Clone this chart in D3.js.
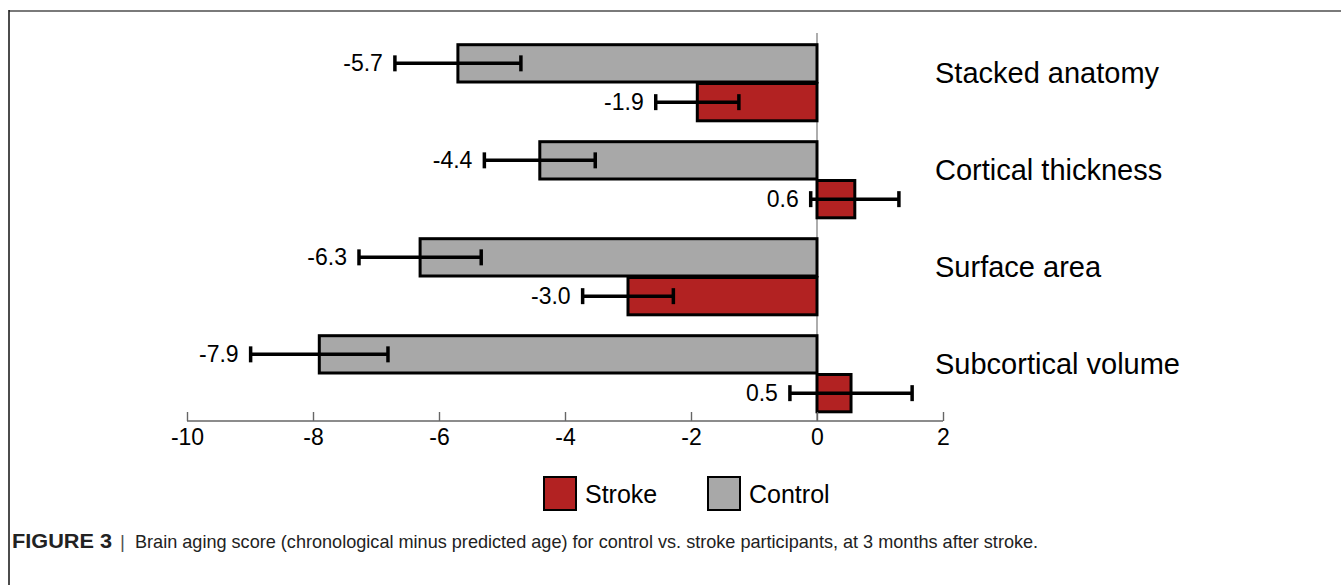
<!DOCTYPE html>
<html>
<head>
<meta charset="utf-8">
<script src="https://cdn.jsdelivr.net/npm/d3@7"></script>
<style>
  html, body { margin: 0; padding: 0; background: #fff; }
  svg { display: block; font-family: "Liberation Sans", Arial, sans-serif; }
</style>
</head>
<body>
<svg id="chart" width="1341" height="585"></svg>
<script>
(function (d3) {
    'use strict';

    // values
    var categories = ['Stacked anatomy', 'Cortical thickness', 'Surface area', 'Subcortical volume'];
    var series = ['Control', 'Stroke'];
    var controlMean = [-5.7, -4.4, -6.3, -7.9];
    var controlErr = [1.0, 0.88, 0.97, 1.09];
    var strokeMean = [-1.9, 0.6, -3.0, 0.54];
    var strokeErr = [0.66, 0.7, 0.72, 0.97];
    var xTicks = [-10, -8, -6, -4, -2, 0, 2];
    var legendItems = ['Stroke', 'Control'];

    var colors = { Control: '#a8a8a8', Stroke: '#b22222' };

    var rows = [];
    categories.forEach(function (c, i) {
        rows.push({ cat: c, series: 'Control', mean: controlMean[i], err: controlErr[i] });
        rows.push({ cat: c, series: 'Stroke', mean: strokeMean[i], err: strokeErr[i] });
    });

    // plain hyphen for negatives, like the original
    function fmt1(v) { return d3.format('.1f')(v).replace('\u2212', '-'); }

    var svg = d3.select('#chart');

    // frame of the figure panel
    svg.append('line')
        .attr('x1', 9).attr('x2', 1341).attr('y1', 11).attr('y2', 11)
        .attr('stroke', '#7a7a7a').attr('stroke-width', 2);
    svg.append('line')
        .attr('x1', 9).attr('x2', 9).attr('y1', 10).attr('y2', 585)
        .attr('stroke', '#111').attr('stroke-width', 1.5);

    var x = d3.scaleLinear().domain([-10, 2]).range([187, 943]);
    var y = d3.scaleBand().domain(categories).range([33.5, 421.5])
        .paddingInner(0.2).paddingOuter(0.1);
    var ySub = d3.scaleBand().domain(series).range([0, y.bandwidth()]);

    var axisY = 421;

    // zero line
    svg.append('line')
        .attr('x1', x(0)).attr('x2', x(0))
        .attr('y1', 33).attr('y2', axisY)
        .attr('stroke', '#777').attr('stroke-width', 1.2);

    // bars
    svg.append('g').selectAll('rect')
        .data(rows)
        .enter()
        .append('rect')
        .attr('x', function (d) { return x(Math.min(0, d.mean)); })
        .attr('y', function (d) { return y(d.cat) + ySub(d.series) + 1.5; })
        .attr('width', function (d) { return Math.abs(x(d.mean) - x(0)); })
        .attr('height', ySub.bandwidth() - 1.5)
        .attr('fill', function (d) { return colors[d.series]; })
        .attr('stroke', '#000')
        .attr('stroke-width', 3);

    // error bars
    var eb = svg.append('g').selectAll('g')
        .data(rows)
        .enter()
        .append('g')
        .attr('transform', function (d) {
            return 'translate(0,' + (y(d.cat) + ySub(d.series) + ySub.bandwidth() / 2 + 0.75) + ')';
        });
    eb.append('line')
        .attr('x1', function (d) { return x(d.mean - d.err); })
        .attr('x2', function (d) { return x(d.mean + d.err); })
        .attr('stroke', '#000').attr('stroke-width', 3.5);
    eb.append('line')
        .attr('x1', function (d) { return x(d.mean - d.err); })
        .attr('x2', function (d) { return x(d.mean - d.err); })
        .attr('y1', -8).attr('y2', 8)
        .attr('stroke', '#000').attr('stroke-width', 3.5);
    eb.append('line')
        .attr('x1', function (d) { return x(d.mean + d.err); })
        .attr('x2', function (d) { return x(d.mean + d.err); })
        .attr('y1', -8).attr('y2', 8)
        .attr('stroke', '#000').attr('stroke-width', 3.5);
    eb.append('text')
        .attr('x', function (d) { return x(d.mean - d.err) - 12; })
        .attr('dy', '0.35em')
        .attr('text-anchor', 'end')
        .attr('font-size', 23)
        .attr('fill', '#000')
        .text(function (d) { return fmt1(d.mean); });

    // category labels
    svg.append('g').selectAll('text')
        .data(categories)
        .enter()
        .append('text')
        .attr('x', 935)
        .attr('y', function (d) { return y(d) + y.bandwidth() / 2 - 9; })
        .attr('dy', '0.35em')
        .attr('font-size', 29)
        .attr('fill', '#000')
        .text(function (d) { return d; });

    // x axis
    var axis = svg.append('g')
        .attr('transform', 'translate(0,' + axisY + ')')
        .call(d3.axisBottom(x).tickValues(xTicks).tickSize(-9).tickPadding(7)
            .tickFormat(d3.format('d')));
    axis.select('.domain').attr('stroke', '#666').attr('stroke-width', 1.4)
        .attr('d', 'M' + x(-10) + ',0H' + x(2));
    axis.selectAll('.tick line').attr('stroke', '#666').attr('stroke-width', 1.4);
    axis.selectAll('.tick text')
        .attr('font-size', 23)
        .attr('font-family', '"Liberation Sans", Arial, sans-serif')
        .attr('fill', '#000')
        .attr('dy', '0.75em')
        .text(function (d) { return d < 0 ? '-' + Math.abs(d) : d; });

    // legend
    var legend = svg.append('g').selectAll('g')
        .data(legendItems)
        .enter()
        .append('g')
        .attr('transform', function (d, i) { return 'translate(' + (544 + i * 164) + ',477)'; });
    legend.append('rect')
        .attr('width', 32).attr('height', 33)
        .attr('fill', function (d) { return colors[d]; })
        .attr('stroke', '#000').attr('stroke-width', 2);
    legend.append('text')
        .attr('x', 41).attr('y', 17)
        .attr('dy', '0.35em')
        .attr('font-size', 25)
        .attr('fill', '#000')
        .text(function (d) { return d; });

    // caption
    var cap = svg.append('g').attr('fill', '#222');
    cap.append('text')
        .attr('x', 12).attr('y', 548)
        .attr('font-size', 20).attr('font-weight', 'bold')
        .attr('textLength', 100).attr('lengthAdjust', 'spacingAndGlyphs')
        .text('FIGURE 3');
    cap.append('text')
        .attr('x', 120).attr('y', 548)
        .attr('font-size', 19).attr('fill', '#555')
        .text('|');
    cap.append('text')
        .attr('x', 135).attr('y', 548)
        .attr('font-size', 18.1)
        .text('Brain aging score (chronological minus predicted age) for control vs. stroke participants, at 3 months after stroke.');
})(d3);
</script>
</body>
</html>
